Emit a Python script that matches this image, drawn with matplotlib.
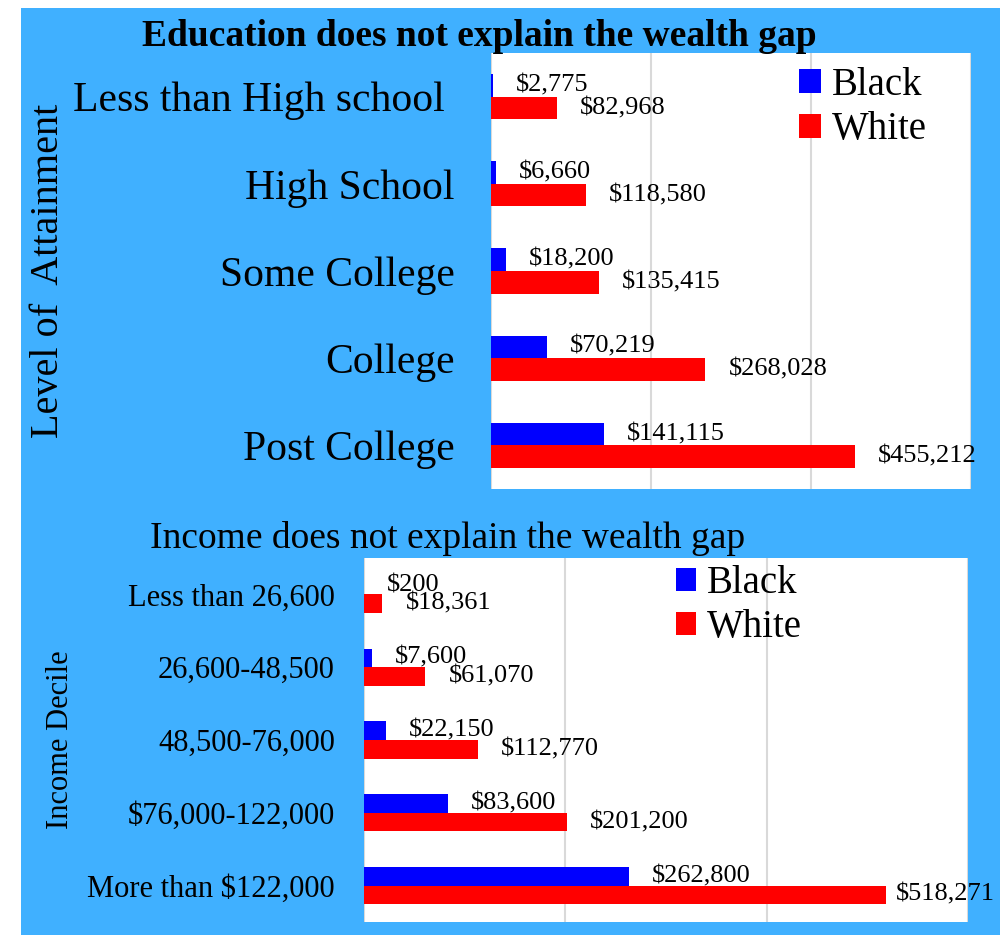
import matplotlib
matplotlib.use("Agg")
import matplotlib.pyplot as plt
from matplotlib.patches import Rectangle
import numpy as np

plt.rcParams['font.family'] = ['Liberation Serif', 'DejaVu Serif']

# ---- data -------------------------------------------------------------
edu_categories = ["Less than High school ", "High School", "Some College",
                  "College", "Post College"]
edu_black = [2775, 6660, 18200, 70219, 141115]
edu_white = [82968, 118580, 135415, 268028, 455212]

inc_categories = ["Less than 26,600", "26,600-48,500", "48,500-76,000",
                  "$76,000-122,000", "More than $122,000"]
inc_black = [200, 7600, 22150, 83600, 262800]
inc_white = [18361, 61070, 112770, 201200, 518271]

series_names = ["Black", "White"]
series_colors = ["#0000FF", "#FF0000"]

x_max = 600000
grid_values = [0, 200000, 400000, 600000]

# ---- figure -----------------------------------------------------------
W, H = 1007, 935
fig = plt.figure(figsize=(W / 100, H / 100), dpi=100, facecolor="white")

# blue backdrop
fig.patches.append(Rectangle((21 / W, 0), (1000 - 21) / W, 1 - 8 / H,
                             transform=fig.transFigure, facecolor="#40B0FF",
                             edgecolor="none", zorder=-10))


def draw_panel(ax, categories, black, white, bar_h, tick_fs, value_fs,
               label_pad, special_offsets):
    y = np.arange(len(categories))
    b = ax.barh(y - bar_h / 2, black, height=bar_h, color=series_colors[0],
                label=series_names[0], zorder=3)
    w = ax.barh(y + bar_h / 2, white, height=bar_h, color=series_colors[1],
                label=series_names[1], zorder=3)
    for key, bars, vals in (("b", b, black), ("w", w, white)):
        for i, (rect, v) in enumerate(zip(bars, vals)):
            off = special_offsets.get((key, i), 23)
            ax.annotate(f"${v:,}", xy=(v, rect.get_y() + rect.get_height() / 2),
                        xytext=(off, 0), textcoords="offset pixels",
                        ha="left", va="center", fontsize=value_fs,
                        color="black", annotation_clip=False, zorder=4)
    ax.set_xlim(0, x_max)
    ax.set_ylim(len(categories) - 0.5, -0.5)
    ax.set_yticks(y)
    ax.set_yticklabels(categories, fontsize=tick_fs)
    ax.set_xticks(grid_values)
    ax.set_xticklabels([])
    ax.tick_params(axis="both", length=0)
    ax.tick_params(axis="y", pad=label_pad)
    ax.grid(False)
    for s in ax.spines.values():
        s.set_visible(False)
    ax.set_facecolor("white")
    for gv in grid_values:
        ax.axvline(gv, color="#D9D9D9", linewidth=1.5, zorder=1)


# ---- top panel: education ---------------------------------------------
ax1 = fig.add_axes([491 / W, 1 - 489 / H, 480 / W, 436 / H])
draw_panel(ax1, edu_categories, edu_black, edu_white, 0.26, 30, 19, 26, {})
fig.text(49 / W, 1 - 271 / H, "Level of  Attainment", rotation=90,
         ha="center", va="center", fontsize=29)
fig.text(479 / W, 1 - 37 / H, "Education does not explain the wealth gap",
         ha="center", va="center", fontsize=27, fontweight="bold")
ax1.legend(loc="upper left", bbox_to_anchor=(799 / W, 1 - 67 / H),
           bbox_transform=fig.transFigure, frameon=False, fontsize=28,
           handlelength=0.57, handleheight=0.57, handletextpad=0.28,
           labelspacing=0.19, borderpad=0, borderaxespad=0)

# ---- bottom panel: income ---------------------------------------------
ax2 = fig.add_axes([364 / W, 1 - 922 / H, 604 / W, 364 / H])
draw_panel(ax2, inc_categories, inc_black, inc_white, 0.255, 22, 19, 21,
           {("w", 4): 10})
fig.text(61 / W, 1 - 740 / H, "Income Decile", rotation=90,
         ha="center", va="center", fontsize=22)
fig.text(448 / W, 1 - 538 / H, "Income does not explain the wealth gap",
         ha="center", va="center", fontsize=27)
ax2.legend(loc="upper left", bbox_to_anchor=(676 / W, 1 - 565 / H),
           bbox_transform=fig.transFigure, frameon=False, fontsize=28,
           handlelength=0.52, handleheight=0.52, handletextpad=0.28,
           labelspacing=0.19, borderpad=0, borderaxespad=0)

fig.savefig("out.png", dpi=100, facecolor="white")
